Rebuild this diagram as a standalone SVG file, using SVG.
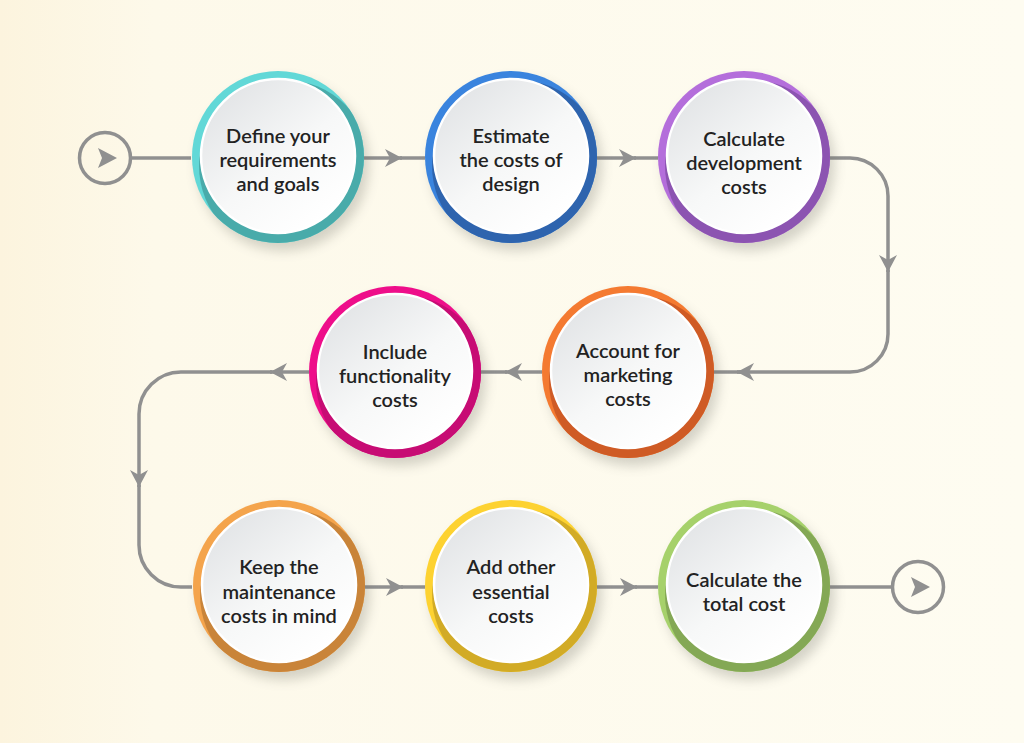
<svg xmlns="http://www.w3.org/2000/svg" width="1024" height="743" viewBox="0 0 1024 743">
<defs>
  <linearGradient id="bg" x1="0" y1="0" x2="1" y2="0">
    <stop offset="0" stop-color="#fcf4de"/>
    <stop offset="0.15" stop-color="#fdf9ea"/>
    <stop offset="1" stop-color="#fefcf1"/>
  </linearGradient>
  <linearGradient id="face" x1="0.15" y1="0.1" x2="0.8" y2="0.9">
    <stop offset="0" stop-color="#e3e5e7"/>
    <stop offset="0.55" stop-color="#f7f8f8"/>
    <stop offset="1" stop-color="#ffffff"/>
  </linearGradient>
  <filter id="sh" x="-30%" y="-30%" width="160%" height="160%">
    <feGaussianBlur stdDeviation="6"/>
  </filter>
  <marker id="arr" markerUnits="userSpaceOnUse" markerWidth="20" markerHeight="20" refX="17" refY="9" orient="auto" viewBox="0 0 20 20">
    <path d="M0,0 L17,9 L0,18 L5,9 Z" fill="#909090"/>
  </marker>
  <clipPath id="c1"><circle cx="278" cy="157" r="86"/></clipPath>
  <clipPath id="c2"><circle cx="511" cy="157" r="86"/></clipPath>
  <clipPath id="c3"><circle cx="744" cy="157" r="86"/></clipPath>
  <clipPath id="c4"><circle cx="628" cy="372" r="86"/></clipPath>
  <clipPath id="c5"><circle cx="395" cy="372" r="86"/></clipPath>
  <clipPath id="c6"><circle cx="279" cy="586" r="86"/></clipPath>
  <clipPath id="c7"><circle cx="511" cy="586" r="86"/></clipPath>
  <clipPath id="c8"><circle cx="744" cy="586" r="86"/></clipPath>
</defs>
<style>
  .ln { fill: none; stroke: #909090; stroke-width: 3.5; }
  .mk { marker-end: url(#arr); }
  .shadow { fill: #6b6b60; opacity: 0.28; filter: url(#sh); }
  .face { fill: url(#face); stroke: #ffffff; stroke-width: 2.5; }
  .lbl { font-family: Lato, "Liberation Sans", sans-serif; font-size: 20px; font-weight: 600; fill: #222222; text-anchor: middle; }
  .term { fill: none; stroke: #909090; stroke-width: 3.5; }
  .tri { fill: #909090; }
</style>
<rect width="1024" height="743" fill="url(#bg)"/>

<g id="connectors">
  <path class="ln" d="M132,158 H191"/>
  <path class="ln mk" d="M364,158 L402,158"/>
  <path class="ln" d="M400,158 L425,158"/>
  <path class="ln mk" d="M597,158 L636,158"/>
  <path class="ln" d="M634,158 L658,158"/>
  <path class="ln mk" d="M830,158 H850 A38,38 0 0 1 888,196 L888,272"/>
  <path class="ln" d="M888,270 L888,334 A38,38 0 0 1 850,372 L739,372"/>
  <path class="ln mk" d="M741,372 L737,372"/>
  <path class="ln" d="M739,372 L714,372"/>
  <path class="ln mk" d="M542,372 L505,372"/>
  <path class="ln" d="M507,372 L481,372"/>
  <path class="ln mk" d="M309,372 L270,372"/>
  <path class="ln mk" d="M272,372 L181,372 A42,42 0 0 0 139,414 L139,487"/>
  <path class="ln" d="M139,485 L139,545 A42,42 0 0 0 181,587 H192"/>
  <path class="ln mk" d="M365,587 L403,587"/>
  <path class="ln" d="M401,587 L425,587"/>
  <path class="ln mk" d="M597,587 L637,587"/>
  <path class="ln" d="M635,587 L658,587"/>
  <path class="ln" d="M830,587 H892"/>
</g>

<g id="start">
  <circle class="term" cx="105" cy="158" r="25.5"/>
  <path class="tri" d="M98,148 L117,158 L98,168 L102,158 Z"/>
</g>
<g id="end">
  <circle class="term" cx="918" cy="587" r="25.5"/>
  <path class="tri" d="M911,577 L930,587 L911,597 L915,587 Z"/>
</g>

<g id="n1">
  <circle class="shadow" cx="283" cy="165" r="86"/>
  <circle cx="278" cy="157" r="86" fill="#62d8d7"/>
  <circle cx="285" cy="166" r="86" fill="#49abaa" clip-path="url(#c1)"/>
  <circle class="face" cx="278" cy="156" r="77"/>
  <text class="lbl" x="278" y="143">Define your</text>
  <text class="lbl" x="278" y="167">requirements</text>
  <text class="lbl" x="278" y="191">and goals</text>
</g>
<g id="n2">
  <circle class="shadow" cx="516" cy="165" r="86"/>
  <circle cx="511" cy="157" r="86" fill="#3a84de"/>
  <circle cx="518" cy="166" r="86" fill="#2e64ae" clip-path="url(#c2)"/>
  <circle class="face" cx="511" cy="156" r="77"/>
  <text class="lbl" x="511" y="143">Estimate</text>
  <text class="lbl" x="511" y="167">the costs of</text>
  <text class="lbl" x="511" y="191">design</text>
</g>
<g id="n3">
  <circle class="shadow" cx="749" cy="165" r="86"/>
  <circle cx="744" cy="157" r="86" fill="#b46edb"/>
  <circle cx="751" cy="166" r="86" fill="#8c54b1" clip-path="url(#c3)"/>
  <circle class="face" cx="744" cy="156" r="77"/>
  <text class="lbl" x="744" y="146">Calculate</text>
  <text class="lbl" x="744" y="170">development</text>
  <text class="lbl" x="744" y="194">costs</text>
</g>
<g id="n4">
  <circle class="shadow" cx="633" cy="380" r="86"/>
  <circle cx="628" cy="372" r="86" fill="#f47a31"/>
  <circle cx="635" cy="381" r="86" fill="#cf5b25" clip-path="url(#c4)"/>
  <circle class="face" cx="628" cy="371" r="77"/>
  <text class="lbl" x="628" y="358">Account for</text>
  <text class="lbl" x="628" y="382">marketing</text>
  <text class="lbl" x="628" y="406">costs</text>
</g>
<g id="n5">
  <circle class="shadow" cx="400" cy="380" r="86"/>
  <circle cx="395" cy="372" r="86" fill="#ee0e8a"/>
  <circle cx="402" cy="381" r="86" fill="#c70c74" clip-path="url(#c5)"/>
  <circle class="face" cx="395" cy="371" r="77"/>
  <text class="lbl" x="395" y="359">Include</text>
  <text class="lbl" x="395" y="383">functionality</text>
  <text class="lbl" x="395" y="407">costs</text>
</g>
<g id="n6">
  <circle class="shadow" cx="284" cy="594" r="86"/>
  <circle cx="279" cy="586" r="86" fill="#f4a44c"/>
  <circle cx="286" cy="595" r="86" fill="#c98439" clip-path="url(#c6)"/>
  <circle class="face" cx="279" cy="585" r="77"/>
  <text class="lbl" x="279" y="574">Keep the</text>
  <text class="lbl" x="279" y="599">maintenance</text>
  <text class="lbl" x="279" y="623">costs in mind</text>
</g>
<g id="n7">
  <circle class="shadow" cx="516" cy="594" r="86"/>
  <circle cx="511" cy="586" r="86" fill="#fdd231"/>
  <circle cx="518" cy="595" r="86" fill="#d2ab26" clip-path="url(#c7)"/>
  <circle class="face" cx="511" cy="585" r="77"/>
  <text class="lbl" x="511" y="574">Add other</text>
  <text class="lbl" x="511" y="599">essential</text>
  <text class="lbl" x="511" y="623">costs</text>
</g>
<g id="n8">
  <circle class="shadow" cx="749" cy="594" r="86"/>
  <circle cx="744" cy="586" r="86" fill="#a6d16b"/>
  <circle cx="751" cy="595" r="86" fill="#84a855" clip-path="url(#c8)"/>
  <circle class="face" cx="744" cy="585" r="77"/>
  <text class="lbl" x="744" y="587">Calculate the</text>
  <text class="lbl" x="744" y="611">total cost</text>
</g>
</svg>
